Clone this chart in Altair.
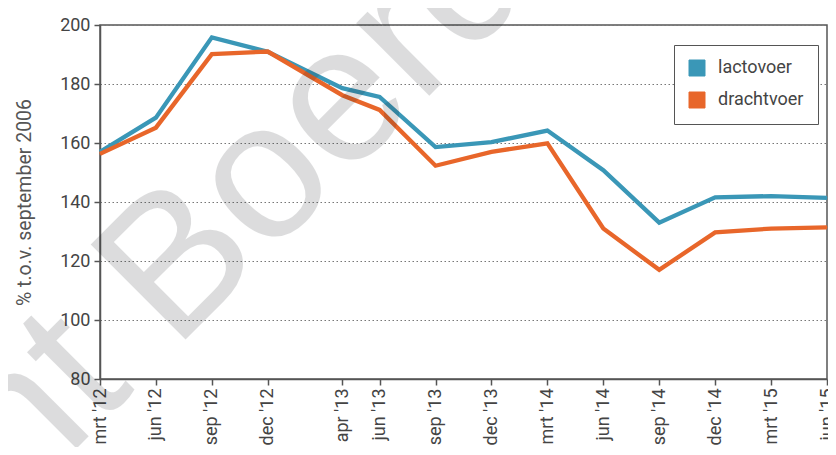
import altair as alt
import pandas as pd

labels = ["mrt '12", "jun '12", "sep '12", "dec '12", "apr '13", "jun '13", "sep '13",
          "dec '13", "mrt '14", "jun '14", "sep '14", "dec '14", "mrt '15", "jun '15"]
months = [0, 3, 6, 9, 13, 15, 18, 21, 24, 27, 30, 33, 36, 39]
lactovoer = [157.0, 168.6, 195.8, 190.9, 178.6, 175.6, 158.6, 160.3, 164.2, 150.8, 133.0, 141.6, 142.0, 141.4]
drachtvoer = [156.3, 165.2, 190.1, 191.0, 176.2, 171.2, 152.3, 157.0, 159.9, 131.0, 117.0, 129.7, 131.0, 131.4]
series = ["lactovoer", "drachtvoer"]
colors = ["#3a97b7", "#e8662a"]
y_ticks = [80, 100, 120, 140, 160, 180, 200]
y_title = "% t.o.v. september 2006"
watermark = "nt Boerderij"

rows = []
for name, vals in zip(series, [lactovoer, drachtvoer]):
    for m, lab, v in zip(months, labels, vals):
        rows.append({"maand": m, "label": lab, "reeks": name, "waarde": v})
df = pd.DataFrame(rows)

label_expr = ("[" + ",".join('"%s"' % l for l in labels) + "][indexof(["
              + ",".join(str(m) for m in months) + "], datum.value)]")

FONT = "Roboto"
x_enc = alt.X(
    "maand:Q",
    scale=alt.Scale(domain=[months[0], months[-1]], nice=False, zero=False),
    axis=alt.Axis(values=months, labelExpr=label_expr, labelAngle=270, title=None,
                  grid=False, tickSize=6, tickColor="#555", tickWidth=1.5,
                  domainColor="#555", domainWidth=1.5, labelFont=FONT, labelFontSize=18,
                  labelColor="#444", labelPadding=3),
)
y_enc = alt.Y(
    "waarde:Q",
    scale=alt.Scale(domain=[80, 200], nice=False, zero=False),
    axis=alt.Axis(values=y_ticks, title=y_title, grid=True, gridColor="#777",
                  gridDash=[1.5, 2.5], gridWidth=1.2, tickSize=6, tickColor="#555",
                  tickWidth=1.5, domainColor="#555", domainWidth=1.5, labelFont=FONT,
                  labelFontSize=18, labelColor="#444", labelPadding=4, titleFont=FONT,
                  titleFontSize=19.5, titleFontWeight="normal", titleColor="#555",
                  titlePadding=25),
)
color_scale = alt.Scale(domain=series, range=colors)

base = alt.Chart(df)

legend_layer = base.mark_square(size=1, opacity=1).encode(
    x=x_enc, y=y_enc,
    color=alt.Color("reeks:N", scale=color_scale, legend=alt.Legend(
        orient="none", legendX=574, legendY=20, title=None, strokeColor="#555",
        fillColor="white", padding=14, symbolType="square", symbolSize=256,
        symbolStrokeColor="#555", symbolStrokeWidth=1, symbolOpacity=1,
        labelFont=FONT, labelFontSize=18, labelColor="#444", rowPadding=12,
        labelOffset=12, cornerRadius=0)),
)

line_l = base.transform_filter(alt.datum.reeks == series[0]).mark_line(
    strokeWidth=4.3, strokeJoin="miter").encode(
    x=x_enc, y=y_enc, color=alt.Color("reeks:N", scale=color_scale, legend=None))
line_d = base.transform_filter(alt.datum.reeks == series[1]).mark_line(
    strokeWidth=4.3, strokeJoin="miter").encode(
    x=x_enc, y=y_enc, color=alt.Color("reeks:N", scale=color_scale, legend=None))

wm = alt.Chart(pd.DataFrame({"t": [watermark]})).mark_text(
    font="Liberation Sans", fontSize=195, angle=315, align="left",
    baseline="alphabetic", color="#1a1d22", opacity=0.15).encode(
    x=alt.value(-79), y=alt.value(479), text="t:N")

chart = alt.layer(legend_layer, line_l, line_d, wm).properties(
    width=727, height=354,
    autosize=alt.AutoSizeParams(type="none"),
    padding={"left": 92, "top": 17, "right": 1, "bottom": 68},
).configure_view(stroke="#555", strokeWidth=1.5)

chart.save("out.html", embed_options={"renderer": "svg", "actions": False})
